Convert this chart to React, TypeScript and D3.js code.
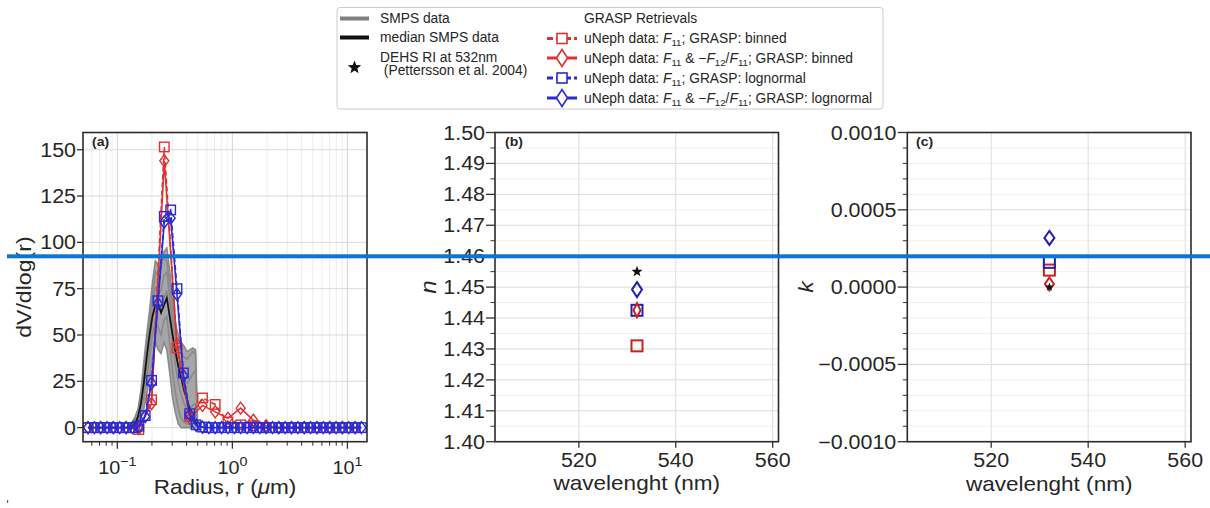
import React from 'react';
import * as d3 from 'd3';

const W = 1210;
const H = 508;

// ---------- Panel (a): size distributions ----------
// GRASP binned retrievals (22 bins)
const binnedRadius = [0.0556, 0.0717, 0.0924, 0.1193, 0.1538, 0.1984, 0.256, 0.330, 0.426, 0.550, 0.709, 0.915, 1.180, 1.522, 1.963, 2.532, 3.267, 4.214, 5.436, 7.013, 9.047, 11.67];
const binnedF11 = [0, 0, 0, 0, -1, 15, 151.5, 43, 6, 16, 12.5, 3, 1.5, 1, 0, 0, 0, 0, 0, 0, 0, 0];
const binnedF11F12 = [0, 0, 0, 0, -0.5, 13, 144, 45, 5, 12, 8.5, 5, 10.5, 4, 1, 0, 0, 0, 0, 0, 0, 0];

// GRASP lognormal retrievals (evaluated on a finer grid)
const lognormRadius = [0.0556, 0.0632, 0.0717, 0.0815, 0.0924, 0.1050, 0.1193, 0.1355, 0.1538, 0.1747, 0.1984, 0.2254, 0.256, 0.2908, 0.330, 0.3749, 0.426, 0.4838, 0.550, 0.6244, 0.709, 0.8055, 0.915, 1.0393, 1.180, 1.3406, 1.522, 1.7288, 1.963, 2.2296, 2.532, 2.876, 3.267, 3.711, 4.214, 4.786, 5.436, 6.174, 7.013, 7.965, 9.047, 10.275, 11.67, 13.25];
const lognormF11 = [0, 0, 0, 0, 0, 0, 0, 0, 0.8, 6.5, 25.5, 68.5, 114, 117.5, 75, 29.5, 7.5, 1.5, 0.3, 0, 0, 0, 0, 0, 0, 0, 0, 0, 0, 0, 0, 0, 0, 0, 0, 0, 0, 0, 0, 0, 0, 0, 0, 0];
const lognormF11F12 = [0, 0, 0, 0, 0, 0, 0, 0, 0.6, 6, 24, 67, 111, 113, 72, 28, 7, 1.3, 0.2, 0, 0, 0, 0, 0, 0, 0, 0, 0, 0, 0, 0, 0, 0, 0, 0, 0, 0, 0, 0, 0, 0, 0, 0, 0];

// SMPS scans
const smpsRadius = [0.1202, 0.1274, 0.1349, 0.1429, 0.1514, 0.1603, 0.1698, 0.1799, 0.1905, 0.2018, 0.2138, 0.2265, 0.2399, 0.2541, 0.2692, 0.2851, 0.3020, 0.3199, 0.3388, 0.3589, 0.3802, 0.4027, 0.4266, 0.4519, 0.4786, 0.4966];
const smpsScan1 = [0, 1, 3, 6, 10, 20, 35, 50, 63, 78, 90, 88, 86, 95, 97, 85, 70, 56, 50, 46, 44, 41, 42, 43, 42, 4];
const smpsScan2 = [0, 1, 2, 5, 9, 17, 30, 44, 57, 72, 84, 82, 88, 92, 90, 78, 62, 50, 44, 40, 38, 37, 39, 41, 40, 2];
const smpsScan3 = [0, 0, 2, 4, 7, 14, 25, 38, 50, 64, 76, 72, 74, 82, 84, 70, 54, 42, 34, 29, 26, 24, 26, 29, 31, 6];
const smpsScan4 = [0, 0, 1, 3, 6, 12, 21, 33, 45, 58, 68, 66, 62, 70, 74, 60, 46, 34, 24, 18, 13, 10, 10, 12, 13, 1];
const smpsScan5 = [0, 0, 1, 2, 4, 9, 16, 27, 38, 50, 58, 54, 50, 58, 60, 46, 30, 19, 10, 5, 3, 2, 2, 3, 4, 0];
const smpsScan6 = [0, 0, 0, 1, 2, 5, 10, 18, 26, 38, 46, 42, 40, 46, 42, 30, 16, 8, 2, 0, 0, 0, 0, 0, 0, 0];
const smpsMedian = [0, 0.5, 1, 2, 6, 13, 24, 38, 50, 60, 66, 67, 62, 66, 70, 60, 50, 41, 33, 27, 20, 15, 10, 6, 3, 1];

// ---------- Panels (b) and (c): refractive index at 532 nm ----------
const wavelength = 532;
const nF11Binned = 1.431;
const nF11F12Binned = 1.4425;
const nF11Lognorm = 1.4425;
const nF11F12Lognorm = 1.4492;
const nDEHS = 1.455;
const kF11Binned = 0.00011;
const kF11F12Binned = 0.00002;
const kF11Lognorm = 0.00016;
const kF11F12Lognorm = 0.000318;
const kDEHS = 0.0;

// ---------- ticks ----------
const aYTicks = [0, 25, 50, 75, 100, 125, 150];
const aXTicks = [0.1, 1, 10];
const aXTickExp = ['\u22121', '0', '1'];
const bYTicks = [1.40, 1.41, 1.42, 1.43, 1.44, 1.45, 1.46, 1.47, 1.48, 1.49, 1.50];
const bYMinor = [1.405, 1.415, 1.425, 1.435, 1.445, 1.455, 1.465, 1.475, 1.485, 1.495];
const cYTicks = [-0.001, -0.0005, 0, 0.0005, 0.001];
const cYTickLabels = ['\u22120.0010', '\u22120.0005', '0.0000', '0.0005', '0.0010'];
const cYMinor = [-0.0009, -0.0008, -0.0007, -0.0006, -0.0004, -0.0003, -0.0002, -0.0001, 0.0001, 0.0002, 0.0003, 0.0004, 0.0006, 0.0007, 0.0008, 0.0009];
const wlTicks = [520, 540, 560];

const RED = '#e0302f';
const BLUE = '#2a2ad6';
const RED_D = '#c8221f';
const BLUE_D = '#2222b0';
const TXT = '#262626';
const FONT = '"Liberation Sans", Arial, Helvetica, sans-serif';

function T(props: any) {
  const { x, y, children, anchor = 'start', size = 19.5, sx = 1.1, weight, italic, rotate, fill = TXT } = props;
  return (
    <g transform={`translate(${x},${y})${rotate ? ` rotate(${rotate})` : ''} scale(${sx},1)`}>
      <text textAnchor={anchor} fontSize={size} fontWeight={weight} fontStyle={italic ? 'italic' : undefined} fill={fill}>
        {children}
      </text>
    </g>
  );
}

function Sq({ x, y, s, color, sw = 1.4, fill = 'none' }: any) {
  return <rect x={x - s / 2} y={y - s / 2} width={s} height={s} fill={fill} stroke={color} strokeWidth={sw} />;
}
function Dia({ x, y, w, h, color, sw = 1.4, fill = 'none' }: any) {
  return <path d={`M${x},${y - h / 2}L${x + w / 2},${y}L${x},${y + h / 2}L${x - w / 2},${y}Z`} fill={fill} stroke={color} strokeWidth={sw} />;
}
function Star({ x, y, r, color = '#111' }: any) {
  const pts: string[] = [];
  for (let i = 0; i < 10; i++) {
    const rr = i % 2 === 0 ? r : r * 0.42;
    const a = -Math.PI / 2 + (i * Math.PI) / 5;
    pts.push(`${x + rr * Math.cos(a)},${y + rr * Math.sin(a)}`);
  }
  return <polygon points={pts.join(' ')} fill={color} />;
}

function Frame({ x0, x1, y0, y1 }: any) {
  return <rect x={x0} y={y0} width={x1 - x0} height={y1 - y0} fill="none" stroke="#2b2b2b" strokeWidth={1.6} />;
}

function LegendLabel({ both, kind }: { both: boolean; kind: string }) {
  return (
    <text x={0} y={0} fontSize={13.8} fill={TXT} style={{ whiteSpace: 'pre' }}>
      <tspan>{'uNeph data: '}</tspan>
      <tspan fontStyle="italic">F</tspan>
      <tspan fontSize="70%" dy={3}>11</tspan>
      {both ? (
        <>
          <tspan dy={-3}>{' & \u2212'}</tspan>
          <tspan fontStyle="italic">F</tspan>
          <tspan fontSize="70%" dy={3}>12</tspan>
          <tspan dy={-3}>/</tspan>
          <tspan fontStyle="italic">F</tspan>
          <tspan fontSize="70%" dy={3}>11</tspan>
        </>
      ) : null}
      <tspan dy={-3}>{'; GRASP: ' + kind}</tspan>
    </text>
  );
}

export default function App() {
  React.useEffect(() => {
    document.body.style.margin = '0';
  }, []);

  // ----- Panel (a) -----
  const aX0 = 83, aX1 = 367, top = 132.5, bot = 441.7;
  const ax = d3.scaleLog().domain([0.0503, 14.8]).range([aX0, aX1]);
  const ay = d3.scaleLinear().domain([-7.6, 159.3]).range([bot, top]);
  const allLogTicks = ax.ticks();
  const minorLog = allLogTicks.filter((t) => Math.abs(Math.log10(t) - Math.round(Math.log10(t))) > 1e-6);
  const lineA = d3.line<[number, number]>().x((d) => ax(d[0])).y((d) => ay(d[1]));
  const zip = (xs: number[], ys: number[]) => xs.map((v, i) => [v, ys[i]] as [number, number]);
  const scans = [smpsScan1, smpsScan2, smpsScan3, smpsScan4, smpsScan5, smpsScan6];
  const areaA = d3
    .area<number>()
    .x((_, i) => ax(smpsRadius[i]))
    .y0((_, i) => ay(d3.min(scans, (s) => s[i]) as number))
    .y1((_, i) => ay(d3.max(scans, (s) => s[i]) as number));

  // ----- Panel (b) -----
  const bX0 = 495, bX1 = 778.5;
  const bx = d3.scaleLinear().domain([502.7, 561.2]).range([bX0, bX1]);
  const by = d3.scaleLinear().domain([1.4, 1.5]).range([bot, top]);

  // ----- Panel (c) -----
  const cX0 = 907.3, cX1 = 1191;
  const cx = d3.scaleLinear().domain([502.7, 561.2]).range([cX0, cX1]);
  const cy = d3.scaleLinear().domain([-0.001, 0.001]).range([bot, top]);

  const lgY = [38.5, 58, 78, 98];
  const hx0 = 547, hx1 = 577, hc = 562, ltx = 584;

  return (
    <svg width={W} height={H} style={{ position: 'absolute', left: 0, top: 0, fontFamily: FONT, background: '#fff' }}>
      <rect x={0} y={0} width={W} height={H} fill="#fff" />
      <defs>
        <clipPath id="clipA"><rect x={aX0} y={top} width={aX1 - aX0} height={bot - top} /></clipPath>
        <clipPath id="clipB"><rect x={bX0} y={top} width={bX1 - bX0} height={bot - top} /></clipPath>
        <clipPath id="clipC"><rect x={cX0} y={top} width={cX1 - cX0} height={bot - top} /></clipPath>
      </defs>

      {/* ================= Panel (a) ================= */}
      <g>
        {minorLog.map((t) => (
          <line key={'ga' + t} x1={ax(t)} x2={ax(t)} y1={top} y2={bot} stroke="#ececec" strokeWidth={1} />
        ))}
        {aXTicks.map((t) => (
          <line key={'gA' + t} x1={ax(t)} x2={ax(t)} y1={top} y2={bot} stroke="#d4d4d4" strokeWidth={1} />
        ))}
        {aYTicks.map((t) => (
          <line key={'gy' + t} x1={aX0} x2={aX1} y1={ay(t)} y2={ay(t)} stroke="#dadada" strokeWidth={1} />
        ))}
        <g clipPath="url(#clipA)">
          <path d={areaA(smpsRadius) || ''} fill="#9c9c9c" opacity={0.9} />
          {scans.map((s, i) => (
            <path key={'sc' + i} d={lineA(zip(smpsRadius, s)) || ''} fill="none" stroke="#8a8a8a" strokeWidth={1.6} />
          ))}
          <path d={lineA(zip(smpsRadius, smpsMedian)) || ''} fill="none" stroke="#111" strokeWidth={1.7} />

          <path d={lineA(zip(binnedRadius, binnedF11)) || ''} fill="none" stroke={RED} strokeWidth={1.6} strokeDasharray="5,3" />
          {binnedRadius.map((r, i) => (
            <Sq key={'rs' + i} x={ax(r)} y={ay(binnedF11[i])} s={9.5} color={RED} />
          ))}
          <path d={lineA(zip(binnedRadius, binnedF11F12)) || ''} fill="none" stroke={RED} strokeWidth={1.6} />
          {binnedRadius.map((r, i) => (
            <Dia key={'rd' + i} x={ax(r)} y={ay(binnedF11F12[i])} w={9} h={12} color={RED} />
          ))}

          <path d={lineA(zip(lognormRadius, lognormF11)) || ''} fill="none" stroke={BLUE} strokeWidth={1.6} strokeDasharray="5,3" />
          {lognormRadius.map((r, i) => (
            <Sq key={'bs' + i} x={ax(r)} y={ay(lognormF11[i])} s={9.5} color={BLUE} />
          ))}
          <path d={lineA(zip(lognormRadius, lognormF11F12)) || ''} fill="none" stroke={BLUE} strokeWidth={1.6} />
          {lognormRadius.map((r, i) => (
            <Dia key={'bd' + i} x={ax(r)} y={ay(lognormF11F12[i])} w={9} h={12} color={BLUE} />
          ))}
        </g>
        <Frame x0={aX0} x1={aX1} y0={top} y1={bot} />
        {aYTicks.map((t) => (
          <g key={'ty' + t}>
            <line x1={aX0 - 6} x2={aX0} y1={ay(t)} y2={ay(t)} stroke="#333" strokeWidth={1.3} />
            <T x={aX0 - 7} y={ay(t) + 7} anchor="end">{t}</T>
          </g>
        ))}
        {minorLog.map((t) => (
          <line key={'mx' + t} x1={ax(t)} x2={ax(t)} y1={bot} y2={bot + 4} stroke="#333" strokeWidth={1} />
        ))}
        {aXTicks.map((t, i) => (
          <g key={'tx' + t}>
            <line x1={ax(t)} x2={ax(t)} y1={bot} y2={bot + 7} stroke="#333" strokeWidth={1.3} />
            <T x={ax(t)} y={474} anchor="middle" size={18}>
              <tspan>10</tspan>
              <tspan fontSize={13} dy={-8}>{aXTickExp[i]}</tspan>
            </T>
          </g>
        ))}
        <T x={92} y={145.5} size={12.5} weight="bold" sx={1.12}>(a)</T>
        <T x={(aX0 + aX1) / 2} y={494} anchor="middle" size={20.5} sx={1.1}>
          <tspan>Radius, r (</tspan>
          <tspan fontStyle="italic">{'\u03bc'}</tspan>
          <tspan>m)</tspan>
        </T>
        <T x={31} y={(top + bot) / 2} anchor="middle" size={21} sx={1.1} rotate={-90}>dV/dlog(r)</T>
      </g>

      {/* ================= Panel (b) ================= */}
      <g>
        {bYMinor.map((t) => (
          <line key={'gbm' + t} x1={bX0} x2={bX1} y1={by(t)} y2={by(t)} stroke="#efefef" strokeWidth={1} />
        ))}
        {bYTicks.map((t) => (
          <line key={'gb' + t} x1={bX0} x2={bX1} y1={by(t)} y2={by(t)} stroke="#dadada" strokeWidth={1} />
        ))}
        {wlTicks.map((t) => (
          <line key={'gbx' + t} x1={bx(t)} x2={bx(t)} y1={top} y2={bot} stroke="#dcdcdc" strokeWidth={1} />
        ))}
        <g clipPath="url(#clipB)">
          <Sq x={bx(wavelength)} y={by(nF11Binned)} s={11} color={RED_D} sw={2} />
          <Sq x={bx(wavelength)} y={by(nF11Lognorm)} s={11} color={BLUE_D} sw={2} />
          <Dia x={bx(wavelength)} y={by(nF11F12Binned)} w={7} h={14} color={RED_D} sw={2} />
          <Dia x={bx(wavelength)} y={by(nF11F12Lognorm)} w={10} h={15} color={BLUE_D} sw={2} />
          <Star x={bx(wavelength)} y={by(nDEHS)} r={5.8} />
        </g>
        <Frame x0={bX0} x1={bX1} y0={top} y1={bot} />
        {bYMinor.map((t) => (
          <line key={'bm' + t} x1={bX0 - 4.5} x2={bX0} y1={by(t)} y2={by(t)} stroke="#333" strokeWidth={1} />
        ))}
        {bYTicks.map((t) => (
          <g key={'bt' + t}>
            <line x1={bX0 - 9} x2={bX0} y1={by(t)} y2={by(t)} stroke="#333" strokeWidth={1.3} />
            <T x={bX0 - 10} y={by(t) + 7} anchor="end">{t.toFixed(2)}</T>
          </g>
        ))}
        {wlTicks.map((t) => (
          <g key={'bxt' + t}>
            <line x1={bx(t)} x2={bx(t)} y1={bot} y2={bot + 6} stroke="#333" strokeWidth={1.3} />
            <T x={bx(t)} y={466.5} anchor="middle">{t}</T>
          </g>
        ))}
        <T x={505} y={146} size={12.5} weight="bold" sx={1.12}>(b)</T>
        <T x={(bX0 + bX1) / 2} y={490} anchor="middle" size={20.5} sx={1.1}>wavelenght (nm)</T>
        <T x={436} y={(top + bot) / 2} anchor="middle" size={22} sx={1.1} rotate={-90} italic>n</T>
      </g>

      {/* ================= Panel (c) ================= */}
      <g>
        {cYMinor.map((t) => (
          <line key={'gcm' + t} x1={cX0} x2={cX1} y1={cy(t)} y2={cy(t)} stroke="#f0f0f0" strokeWidth={1} />
        ))}
        {cYTicks.map((t) => (
          <line key={'gc' + t} x1={cX0} x2={cX1} y1={cy(t)} y2={cy(t)} stroke="#dadada" strokeWidth={1} />
        ))}
        {wlTicks.map((t) => (
          <line key={'gcx' + t} x1={cx(t)} x2={cx(t)} y1={top} y2={bot} stroke="#dcdcdc" strokeWidth={1} />
        ))}
        <g clipPath="url(#clipC)">
          <Sq x={cx(wavelength)} y={cy(kF11Binned)} s={11} color={RED_D} sw={2} />
          <Sq x={cx(wavelength)} y={cy(kF11Lognorm)} s={11} color={BLUE_D} sw={2} />
          <Dia x={cx(wavelength)} y={cy(kF11F12Binned)} w={9} h={13} color={RED_D} sw={2} />
          <Star x={cx(wavelength)} y={cy(kDEHS)} r={4.5} />
          <Dia x={cx(wavelength)} y={cy(kF11F12Lognorm)} w={10} h={14} color={BLUE_D} sw={2} />
        </g>
        <Frame x0={cX0} x1={cX1} y0={top} y1={bot} />
        {cYMinor.map((t) => (
          <line key={'cm' + t} x1={cX0 - 4.5} x2={cX0} y1={cy(t)} y2={cy(t)} stroke="#333" strokeWidth={1} />
        ))}
        {cYTicks.map((t, i) => (
          <g key={'ct' + t}>
            <line x1={cX0 - 9.5} x2={cX0} y1={cy(t)} y2={cy(t)} stroke="#333" strokeWidth={1.3} />
            <T x={cX0 - 11} y={cy(t) + 7} anchor="end">{cYTickLabels[i]}</T>
          </g>
        ))}
        {wlTicks.map((t) => (
          <g key={'cxt' + t}>
            <line x1={cx(t)} x2={cx(t)} y1={bot} y2={bot + 6} stroke="#333" strokeWidth={1.3} />
            <T x={cx(t)} y={466.5} anchor="middle">{t}</T>
          </g>
        ))}
        <T x={916} y={146} size={12.5} weight="bold" sx={1.12}>(c)</T>
        <T x={(cX0 + cX1) / 2} y={491} anchor="middle" size={20.5} sx={1.1}>wavelenght (nm)</T>
        <T x={813} y={(top + bot) / 2} anchor="middle" size={21} sx={1.1} rotate={-90} italic>k</T>
      </g>

      {/* ================= Legend ================= */}
      <g>
        <rect x={337} y={7.5} width={546} height={101.5} rx={3} fill="#fff" stroke="#cccccc" strokeWidth={1} />
        <line x1={340} x2={369} y1={18.5} y2={18.5} stroke="#808080" strokeWidth={4} />
        <text x={380} y={23.2} fontSize={13.8} fill={TXT}>SMPS data</text>
        <line x1={340} x2={369} y1={37.5} y2={37.5} stroke="#111" strokeWidth={4} />
        <text x={380} y={42.2} fontSize={13.8} fill={TXT}>median SMPS data</text>
        <Star x={354.5} y={67.5} r={7} />
        <text x={380} y={61.5} fontSize={13.8} fill={TXT}>DEHS RI at 532nm</text>
        <text x={380} y={75} fontSize={13.8} fill={TXT} style={{ whiteSpace: 'pre' }}>{' (Pettersson et al. 2004)'}</text>

        <text x={ltx} y={23.2} fontSize={13.8} fill={TXT}>GRASP Retrievals</text>

        <line x1={hx0} x2={hx1} y1={lgY[0]} y2={lgY[0]} stroke={RED} strokeWidth={3} strokeDasharray="6,3" />
        <Sq x={hc} y={lgY[0]} s={10} color={RED} fill="#fff" sw={1.6} />
        <g transform={`translate(${ltx},${lgY[0] + 4.7})`}><LegendLabel both={false} kind="binned" /></g>

        <line x1={hx0} x2={hx1} y1={lgY[1]} y2={lgY[1]} stroke={RED} strokeWidth={3} />
        <Dia x={hc} y={lgY[1]} w={11} h={17} color={RED} fill="#fff" sw={1.6} />
        <g transform={`translate(${ltx},${lgY[1] + 4.7})`}><LegendLabel both={true} kind="binned" /></g>

        <line x1={hx0} x2={hx1} y1={lgY[2]} y2={lgY[2]} stroke={BLUE} strokeWidth={3} strokeDasharray="6,3" />
        <Sq x={hc} y={lgY[2]} s={10} color={BLUE} fill="#fff" sw={1.6} />
        <g transform={`translate(${ltx},${lgY[2] + 4.7})`}><LegendLabel both={false} kind="lognormal" /></g>

        <line x1={hx0} x2={hx1} y1={lgY[3]} y2={lgY[3]} stroke={BLUE} strokeWidth={3} />
        <Dia x={hc} y={lgY[3]} w={11} h={17} color={BLUE} fill="#fff" sw={1.6} />
        <g transform={`translate(${ltx},${lgY[3] + 4.7})`}><LegendLabel both={true} kind="lognormal" /></g>
      </g>

      {/* overlay marks present in the reference image */}
      <rect x={7} y={254.3} width={W - 7} height={4} fill="#0b76d2" />
      <rect x={7} y={500} width={1.2} height={3} fill="#1a73e8" />
    </svg>
  );
}
